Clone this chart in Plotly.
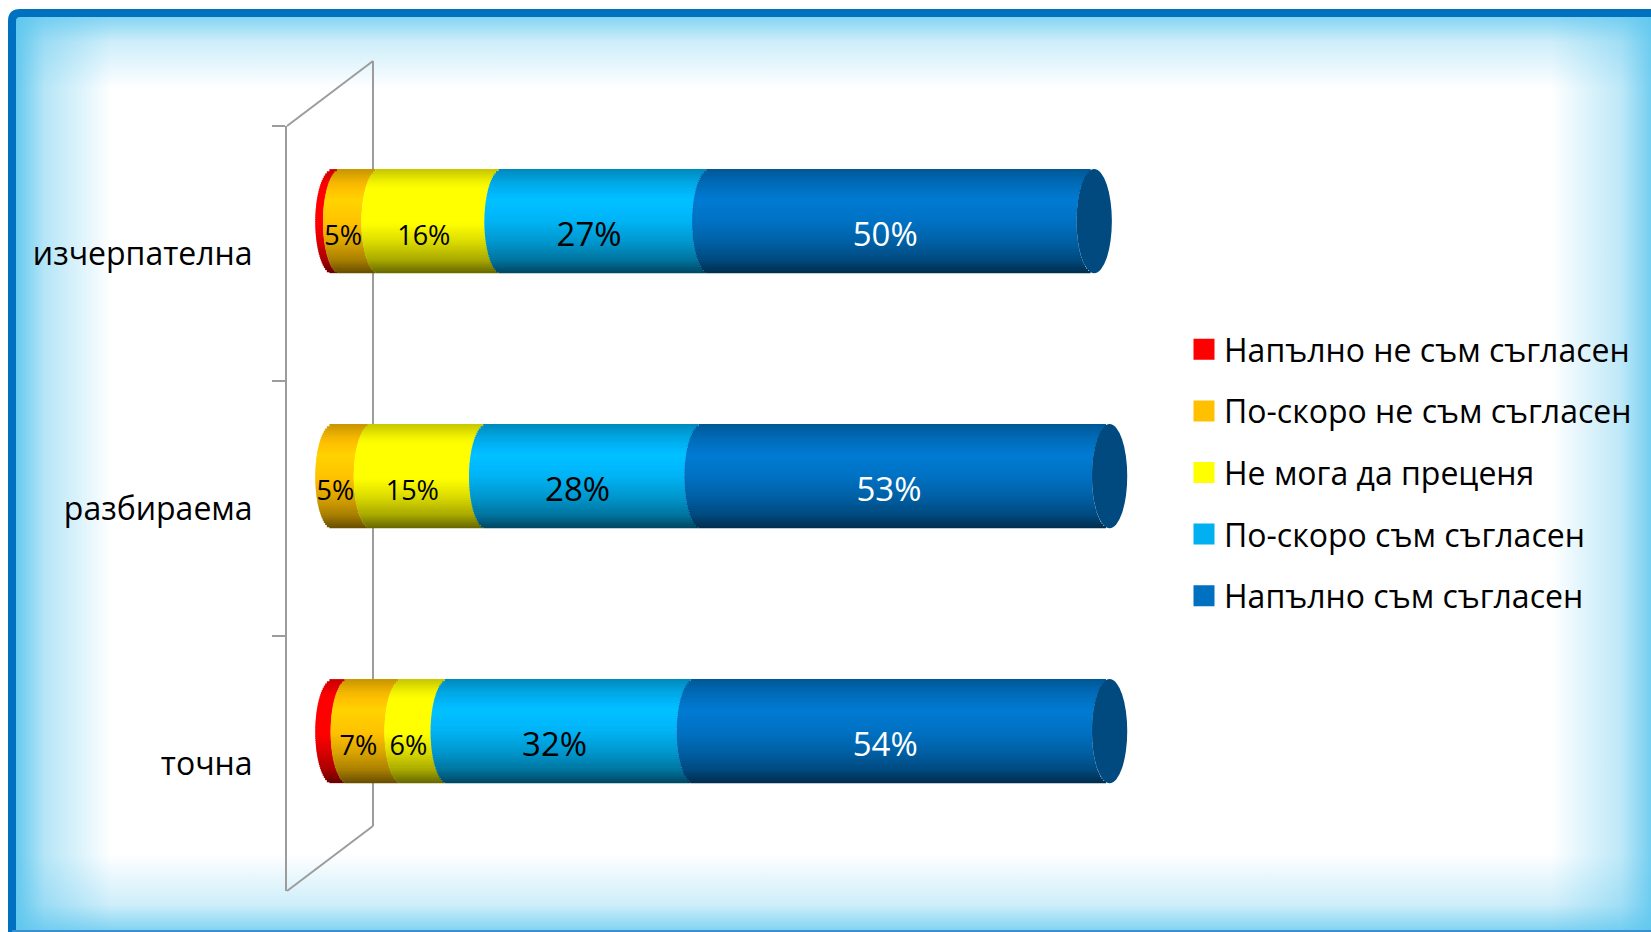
import base64
import numpy as np
import plotly.graph_objects as go

# ---- data -------------------------------------------------------------
categories = ["изчерпателна", "разбираема", "точна"]
series_names = [
    "Напълно не съм съгласен",
    "По-скоро не съм съгласен",
    "Не мога да преценя",
    "По-скоро съм съгласен",
    "Напълно съм съгласен",
]
strongly_disagree = [1, 0, 2]
rather_disagree = [5, 5, 7]
cannot_judge = [16, 15, 6]
rather_agree = [27, 28, 32]
strongly_agree = [50, 53, 54]
series_values = [strongly_disagree, rather_disagree, cannot_judge,
                 rather_agree, strongly_agree]

# ---- styling ----------------------------------------------------------
colors = ["#FF0000", "#FFC000", "#FFFF00", "#00B0F0", "#0070C0"]
cap_color = "#004A80"
label_colors = ["black", "black", "black", "black", "white"]
label_sizes = [27, 27, 27, 33, 33]
show_labels = [False, True, True, True, True]
FONT = "Open Sans"
AXIS_GREY = "#9C9C9C"

FIG_W, FIG_H = 1651, 932
ML, MT, MB, MR = 287, 126, 41, 300
PW, PH = FIG_W - ML - MR, FIG_H - MT - MB
X_RANGE = [-5.98, 132.4]
Y_RANGE = [2.5, -0.5]

BAR_TOP = -0.331      # offset of the cylinder top from the category centre
BAR_H = 0.408         # cylinder thickness in category units
R = 2.3               # horizontal radius of the elliptical ends (x units)
N = 48                # horizontal slices used for the cylindrical shading
LABEL_DY = -0.06      # vertical position of the value labels


def px(x):
    return (x - ML) / PW


def py(y):
    return (FIG_H - MB - y) / PH


def shade(hex_color, f):
    rgb = np.array([int(hex_color[i:i + 2], 16) for i in (1, 3, 5)], float)
    rgb = np.clip(rgb * f, 0, 255).astype(int)
    return "rgb(%d,%d,%d)" % tuple(rgb)


# brightness profile across the cylinder, top (-1) to bottom (+1)
knots_t = [-1.0, -0.75, -0.4, 0.0, 0.4, 0.75, 1.0]
knots_f = [0.78, 0.95, 1.10, 1.02, 0.86, 0.66, 0.40]

ts = -1 + (2 * np.arange(N) + 1) / N
bulge = -R * np.sqrt(1 - ts ** 2)
fac = np.interp(ts, knots_t, knots_f)

fig = go.Figure()

starts = np.zeros(len(categories))
for i, vals in enumerate(series_values):
    ys, xs, bases, offs, wids, cols = [], [], [], [], [], []
    for c, cat in enumerate(categories):
        for k in range(N):
            ys.append(cat)
            xs.append(vals[c])
            bases.append(starts[c] + bulge[k])
            offs.append(BAR_TOP + k * BAR_H / N)
            wids.append(BAR_H / N * (1.6 if k < N - 1 else 1.0))
            cols.append(shade(colors[i], fac[k]))
    fig.add_trace(go.Bar(
        orientation="h", y=ys, x=xs, base=bases, offset=offs, width=wids,
        marker=dict(color=cols, line=dict(width=0)),
        showlegend=False, hoverinfo="skip",
    ))
    if show_labels[i]:
        # value labels sit on a numeric twin of the category axis
        fig.add_trace(go.Scatter(
            x=[starts[c] + vals[c] / 2 - R * 0.95 for c in range(len(categories))],
            y=[c + LABEL_DY for c in range(len(categories))],
            yaxis="y2",
            mode="text",
            text=["%d%%" % v for v in vals],
            textfont=dict(family=FONT, size=label_sizes[i], color=label_colors[i]),
            showlegend=False, hoverinfo="skip", cliponaxis=False,
        ))
    starts = starts + np.array(vals, float)

# legend entries
for name, col in zip(series_names, colors):
    fig.add_trace(go.Scatter(
        x=[None], y=[None], mode="markers", name=name, legendgroup=name,
        marker=dict(symbol="square", size=16, color=col,
                    line=dict(width=5, color=col)),
    ))

shapes = []
# dark elliptical end caps at the right end of each cylinder
for c in range(len(categories)):
    total = starts[c]
    shapes.append(dict(
        type="circle", xref="x", yref="y",
        x0=total - R, x1=total + R,
        y0=c + BAR_TOP, y1=c + BAR_TOP + BAR_H,
        fillcolor=cap_color, line=dict(width=0), layer="above",
    ))
# back wall of the 3-D frame
for (xa, ya, xb, yb) in [(287, 126, 373, 61), (373, 61, 373, 826), (287, 891, 373, 826)]:
    shapes.append(dict(
        type="line", xref="paper", yref="paper",
        x0=px(xa), y0=py(ya), x1=px(xb), y1=py(yb),
        line=dict(color=AXIS_GREY, width=2), layer="below",
    ))

# frame with inner glow, drawn as an SVG background
edge = "#5CC6EE"
svg = f"""<svg xmlns="http://www.w3.org/2000/svg" width="{FIG_W}" height="{FIG_H}" viewBox="0 0 {FIG_W} {FIG_H}">
<defs>
<linearGradient id="gl" x1="0" y1="0" x2="1" y2="0">
<stop offset="0" stop-color="{edge}" stop-opacity="0.95"/>
<stop offset="0.3" stop-color="{edge}" stop-opacity="0.45"/>
<stop offset="1" stop-color="{edge}" stop-opacity="0"/></linearGradient>
<linearGradient id="gr" x1="1" y1="0" x2="0" y2="0">
<stop offset="0" stop-color="{edge}" stop-opacity="0.85"/>
<stop offset="0.3" stop-color="{edge}" stop-opacity="0.4"/>
<stop offset="1" stop-color="{edge}" stop-opacity="0"/></linearGradient>
<linearGradient id="gt" x1="0" y1="0" x2="0" y2="1">
<stop offset="0" stop-color="{edge}" stop-opacity="0.75"/>
<stop offset="0.35" stop-color="{edge}" stop-opacity="0.3"/>
<stop offset="1" stop-color="{edge}" stop-opacity="0"/></linearGradient>
<linearGradient id="gb" x1="0" y1="1" x2="0" y2="0">
<stop offset="0" stop-color="{edge}" stop-opacity="0.8"/>
<stop offset="0.35" stop-color="{edge}" stop-opacity="0.3"/>
<stop offset="1" stop-color="{edge}" stop-opacity="0"/></linearGradient>
</defs>
<rect x="0" y="0" width="{FIG_W}" height="{FIG_H}" fill="white"/>
<rect x="16" y="17" width="95" height="{FIG_H - 17}" fill="url(#gl)"/>
<rect x="{FIG_W - 100}" y="17" width="100" height="{FIG_H - 17}" fill="url(#gr)"/>
<rect x="16" y="17" width="{FIG_W - 16}" height="72" fill="url(#gt)"/>
<rect x="16" y="{FIG_H - 78}" width="{FIG_W - 16}" height="78" fill="url(#gb)"/>
<path d="M12 {FIG_H + 4} L12 21 Q12 13 20 13 L{FIG_W + 10} 13" stroke="#0070C0" stroke-width="8" fill="none"/>
<line x1="12" y1="{FIG_H - 1}" x2="{FIG_W}" y2="{FIG_H - 1}" stroke="#3A8FD2" stroke-width="2"/>
</svg>"""
bg_src = "data:image/svg+xml;base64," + base64.b64encode(svg.encode("utf-8")).decode("ascii")

fig.update_layout(
    width=FIG_W, height=FIG_H,
    margin=dict(l=ML, r=MR, t=MT, b=MB, autoexpand=False),
    paper_bgcolor="white", plot_bgcolor="rgba(0,0,0,0)",
    barmode="overlay",
    font=dict(family=FONT, size=32, color="black"),
    shapes=shapes,
    images=[dict(
        source=bg_src, xref="paper", yref="paper",
        x=px(0), y=py(0), sizex=FIG_W / PW, sizey=FIG_H / PH,
        xanchor="left", yanchor="top", sizing="stretch", layer="below",
    )],
    xaxis=dict(range=X_RANGE, visible=False, fixedrange=True),
    yaxis=dict(
        type="category", categoryorder="array", categoryarray=categories,
        range=Y_RANGE, tickson="boundaries",
        ticks="outside", ticklen=13, tickwidth=2, tickcolor=AXIS_GREY,
        showline=True, linecolor=AXIS_GREY, linewidth=2,
        showgrid=False, zeroline=False, ticklabelstandoff=26,
        tickfont=dict(family=FONT, size=32, color="black"),
        automargin=False, fixedrange=True,
    ),
    yaxis2=dict(
        type="linear", overlaying="y", range=Y_RANGE, visible=False,
        fixedrange=True,
    ),
    legend=dict(
        x=px(1184), y=py(322), xanchor="left", yanchor="top",
        font=dict(family=FONT, size=32, color="black"),
        bgcolor="rgba(0,0,0,0)", tracegroupgap=17, traceorder="grouped",
    ),
    showlegend=True,
)

fig.write_html("out.html")
